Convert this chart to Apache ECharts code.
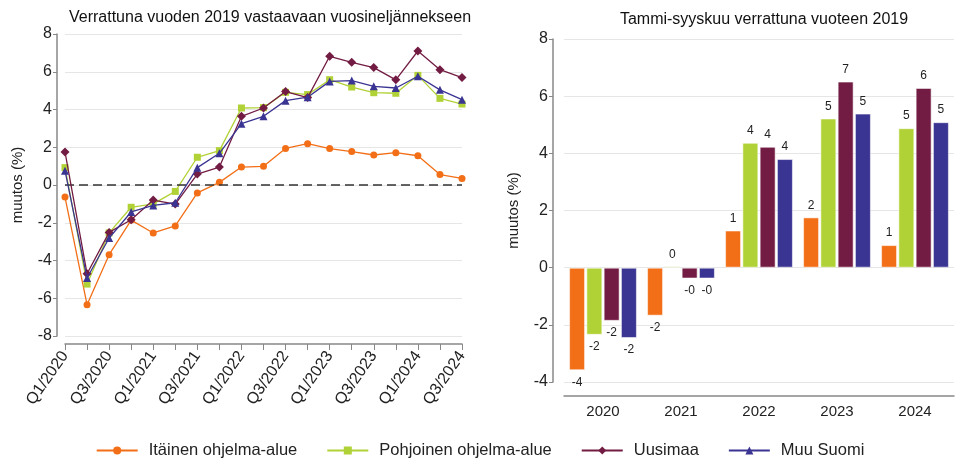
<!DOCTYPE html>
<html>
<head>
<meta charset="utf-8">
<script src="https://cdn.jsdelivr.net/npm/echarts@6/dist/echarts.min.js"></script>
<style>
  html, body { margin: 0; padding: 0; background: #fff; }
  #main { width: 960px; height: 466px; }
</style>
</head>
<body>
<div id="main"></div>
<script>
// neljännekset (vasen kuva)
const quarters = ['Q1/2020','Q2/2020','Q3/2020','Q4/2020','Q1/2021','Q2/2021','Q3/2021','Q4/2021',
  'Q1/2022','Q2/2022','Q3/2022','Q4/2022','Q1/2023','Q2/2023','Q3/2023','Q4/2023','Q1/2024','Q2/2024','Q3/2024'];
const seriesNames = ['Itäinen ohjelma-alue', 'Pohjoinen ohjelma-alue', 'Uusimaa', 'Muu Suomi'];

const itainenQ   = [-0.64, -6.34, -3.69, -1.86, -2.54, -2.17, -0.42, 0.14, 0.95, 0.99, 1.94, 2.19, 1.93, 1.77, 1.59, 1.71, 1.55, 0.55, 0.35];
const pohjoinenQ = [0.92, -5.25, -2.54, -1.18, -1.0, -0.34, 1.47, 1.82, 4.08, 4.1, 4.91, 4.79, 5.58, 5.19, 4.89, 4.86, 5.81, 4.59, 4.29];
const uusimaaQ   = [1.75, -4.70, -2.51, -1.84, -0.80, -1.01, 0.58, 0.95, 3.64, 4.08, 4.95, 4.63, 6.82, 6.50, 6.22, 5.57, 7.10, 6.11, 5.69];
const muuSuomiQ  = [0.76, -4.93, -2.81, -1.43, -1.08, -0.94, 0.92, 1.68, 3.25, 3.64, 4.47, 4.65, 5.49, 5.53, 5.23, 5.14, 5.76, 5.04, 4.52];

// vuodet (oikea kuva)
const years = ['2020', '2021', '2022', '2023', '2024'];
const itainenY   = [-3.59, -1.68, 1.30, 1.76, 0.79];
const pohjoinenY = [-2.35, 0.05, 4.37, 5.22, 4.88];
const uusimaaY   = [-1.86, -0.38, 4.23, 6.51, 6.29];
const muuSuomiY  = [-2.46, -0.38, 3.80, 5.39, 5.09];

const colors = ['#f26f17', '#b1d236', '#731c43', '#3a3492'];
const symbols = ['circle', 'rect', 'diamond', 'triangle'];
const symbolSizes = [7, 7, 9, 8];
const quarterData = [itainenQ, pohjoinenQ, uusimaaQ, muuSuomiQ];
const yearData = [itainenY, pohjoinenY, uusimaaY, muuSuomiY];

const font = 'Liberation Sans, Arial, sans-serif';

let series = [];
quarterData.forEach(function (vals, i) {
  let s = {
    name: seriesNames[i],
    type: 'line',
    xAxisIndex: 0,
    yAxisIndex: 0,
    data: vals,
    color: colors[i],
    symbol: symbols[i],
    symbolSize: symbolSizes[i],
    showAllSymbol: true,
    lineStyle: { width: 1.3 },
    z: 3 + i
  };
  if (i === 0) {
    s.markLine = {
      silent: true,
      symbol: 'none',
      label: { show: false },
      lineStyle: { color: '#333', type: [9, 5], width: 1.5 },
      data: [{ yAxis: 0 }]
    };
  }
  series.push(s);
});
yearData.forEach(function (vals, i) {
  series.push({
    name: seriesNames[i],
    type: 'bar',
    xAxisIndex: 1,
    yAxisIndex: 1,
    color: colors[i],
    barWidth: 16,
    barGap: '8%',
    itemStyle: { borderColor: 'rgba(255,255,255,0.55)', borderWidth: 1 },
    label: {
      show: true,
      fontFamily: font,
      fontSize: 12,
      color: '#222',
      distance: 6,
      formatter: function (p) { return Number(p.value).toFixed(0); }
    },
    data: vals.map(function (v) {
      return { value: v, label: { position: v < 0 ? 'bottom' : 'top' } };
    })
  });
});

const myChart = echarts.init(document.getElementById('main'));
const option = {
  animation: false,
  textStyle: { fontFamily: font },
  title: [
    { text: 'Verrattuna vuoden 2019 vastaavaan vuosineljännekseen', left: 265, top: 5, textAlign: 'center',
      textStyle: { fontFamily: font, fontSize: 16, fontWeight: 'normal', color: '#111' } },
    { text: 'Tammi-syyskuu verrattuna vuoteen 2019', left: 759, top: 7, textAlign: 'center',
      textStyle: { fontFamily: font, fontSize: 16, fontWeight: 'normal', color: '#111' } }
  ],
  legend: {
    data: seriesNames,
    bottom: 2,
    left: 'center',
    itemGap: 29,
    itemWidth: 41,
    itemHeight: 10,
    textStyle: { fontFamily: font, fontSize: 16.5, color: '#222', padding: [0, 0, 0, 6] }
  },
  grid: [
    { left: 65, right: 498, top: 34, bottom: 130 },
    { left: 564, right: 6, top: 39, bottom: 84 }
  ],
  xAxis: [
    {
      gridIndex: 0,
      type: 'category',
      data: quarters,
      boundaryGap: false,
      offset: 8,
      axisLine: { onZero: false, lineStyle: { color: '#888', width: 1.5 } },
      axisTick: { show: true, alignWithLabel: true, interval: 0, length: 6, lineStyle: { color: '#888' } },
      axisLabel: { interval: 1, rotate: 55, fontSize: 16, color: '#222', margin: 9, fontFamily: font },
      splitLine: { show: false }
    },
    {
      gridIndex: 1,
      type: 'category',
      data: years,
      offset: 14,
      axisLine: { onZero: false, lineStyle: { color: '#888', width: 1.5 } },
      axisTick: { show: false },
      axisLabel: { fontSize: 15, color: '#222', margin: 8, fontFamily: font }
    }
  ],
  yAxis: [
    {
      gridIndex: 0,
      type: 'value',
      min: -8,
      max: 8,
      interval: 2,
      offset: 8,
      name: 'muutos (%)',
      nameLocation: 'middle',
      nameGap: 32,
      nameTextStyle: { fontSize: 15, color: '#222', fontFamily: font },
      axisLine: { show: true, lineStyle: { color: '#888', width: 1.5 } },
      axisTick: { show: true, length: 4, lineStyle: { color: '#888' } },
      axisLabel: { fontSize: 16, color: '#222', margin: 5, fontFamily: font },
      splitLine: { lineStyle: { color: '#e6e6e6', width: 1.2 } }
    },
    {
      gridIndex: 1,
      type: 'value',
      min: -4,
      max: 8,
      interval: 2,
      offset: 11,
      name: 'muutos (%)',
      nameLocation: 'middle',
      nameGap: 32,
      nameTextStyle: { fontSize: 15, color: '#222', fontFamily: font },
      axisLine: { show: true, lineStyle: { color: '#888', width: 1.5 } },
      axisTick: { show: true, length: 4, lineStyle: { color: '#888' } },
      axisLabel: { fontSize: 16, color: '#222', margin: 5, fontFamily: font },
      splitLine: { lineStyle: { color: '#e6e6e6', width: 1.2 } }
    }
  ],
  series: series
};
myChart.setOption(option, true);
//图表自适应屏幕
window.addEventListener("resize", function () {
  myChart.resize();
});
</script>
</body>
</html>
